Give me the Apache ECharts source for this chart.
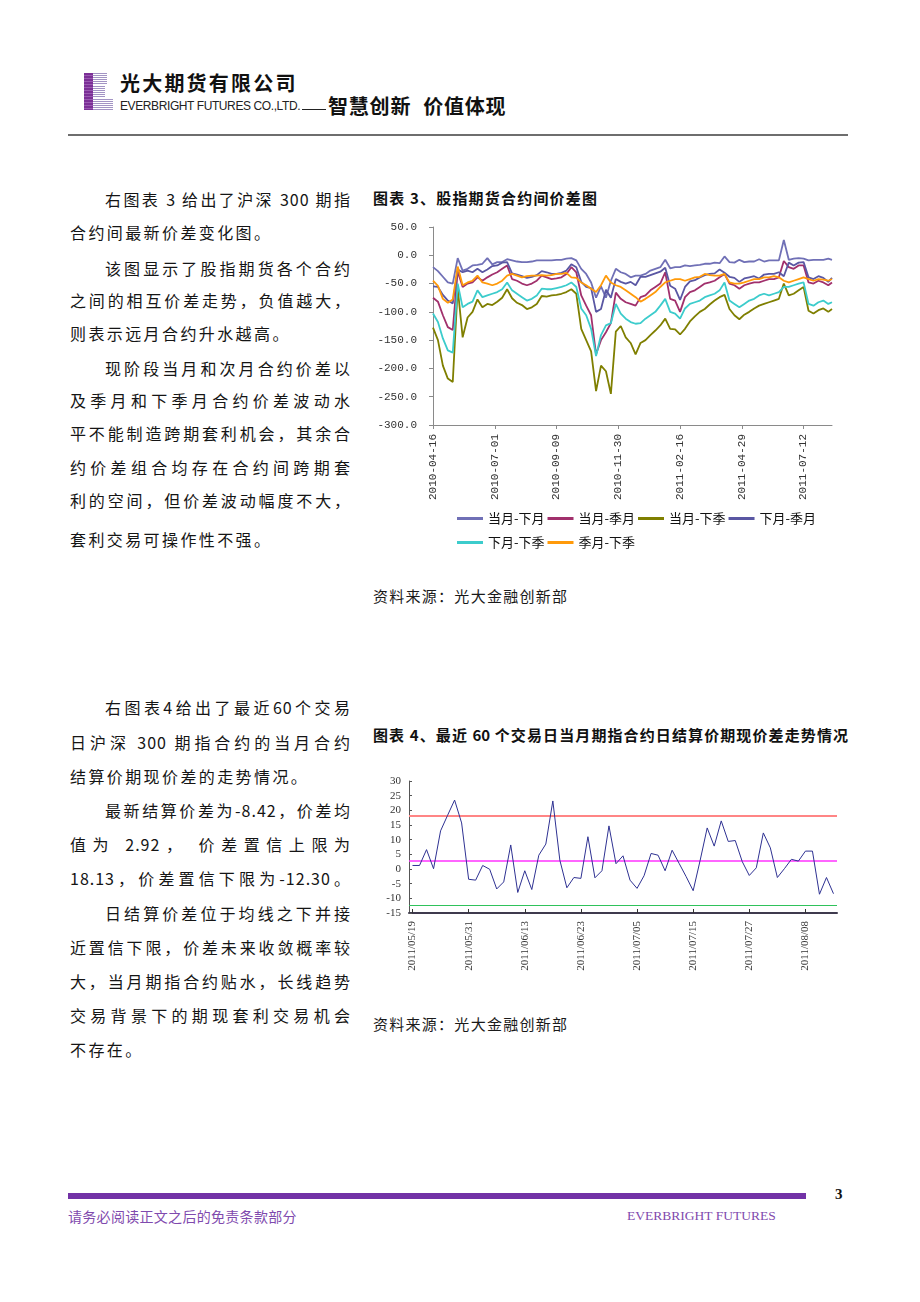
<!DOCTYPE html>
<html><head><meta charset="utf-8">
<script src="https://cdn.jsdelivr.net/npm/echarts@6/dist/echarts.min.js"></script>
<style>
html,body{margin:0;padding:0;background:#fff;}
#page{position:relative;width:920px;height:1302px;overflow:hidden;background:#fff;}
#chart{position:absolute;left:0;top:0;width:920px;height:1302px;z-index:2;}
.t{position:absolute;font-family:"Noto Sans CJK SC","Noto Sans",sans-serif;font-size:16px;color:#151515;letter-spacing:2.4px;white-space:nowrap;line-height:20px;}
.j{text-align:justify;text-align-last:justify;letter-spacing:1px;}
.w1{width:246px;}
.w2{width:281px;}
.h{position:absolute;font-family:"Noto Sans CJK SC",sans-serif;font-weight:700;font-size:15px;color:#111;white-space:nowrap;line-height:20px;text-align:justify;text-align-last:justify;}
.s{position:absolute;font-family:"Noto Sans CJK SC",sans-serif;font-size:15px;color:#1a1a1a;white-space:nowrap;line-height:20px;text-align:justify;text-align-last:justify;width:194px;}
</style></head>
<body><div id="page">
<!-- header -->
<div style="position:absolute;left:84px;top:73px;width:9px;height:37px;background:repeating-linear-gradient(to bottom,#7B2F96 0 2px,#9A5AB2 2px 3px)"></div>
<div style="position:absolute;left:93px;top:73px;width:14px;height:11px;background:repeating-linear-gradient(to bottom,#A394C4 0 1px,#fff 1px 2px)"></div>
<div style="position:absolute;left:93px;top:86px;width:12px;height:11px;background:repeating-linear-gradient(to bottom,#A394C4 0 1px,#fff 1px 2px)"></div>
<div style="position:absolute;left:93px;top:99px;width:20px;height:11px;background:repeating-linear-gradient(to bottom,#A394C4 0 1px,#fff 1px 2px)"></div>
<div style="position:absolute;left:120px;top:71px;font-family:'Noto Sans CJK SC';font-weight:700;font-size:20px;letter-spacing:2.2px;line-height:24px;color:#111;white-space:nowrap">光大期货有限公司</div>
<div style="position:absolute;left:120px;top:99px;font-family:'Liberation Sans';font-size:12px;letter-spacing:-0.4px;line-height:14px;color:#222;white-space:nowrap">EVERBRIGHT FUTURES CO.,LTD.</div>
<div style="position:absolute;left:302px;top:109px;width:24px;height:1px;background:#222"></div>
<div style="position:absolute;left:328px;top:94px;font-family:'Noto Sans CJK SC';font-weight:700;font-size:20px;letter-spacing:0.8px;line-height:24px;color:#111;white-space:nowrap">智慧创新<span style="display:inline-block;width:12px"></span>价值体现</div>
<div style="position:absolute;left:68px;top:134px;width:780px;height:2px;background:#6e6e6e"></div>

<!-- left text 1 -->
<div class="t j w1" style="left:105px;top:189px">右图表 3 给出了沪深 300 期指</div>
<div class="t" style="left:70px;top:222px">合约间最新价差变化图。</div>
<div class="t j w1" style="left:105px;top:258px">该图显示了股指期货各个合约</div>
<div class="t j w2" style="left:70px;top:290px">之间的相互价差走势，负值越大，</div>
<div class="t" style="left:70px;top:323px">则表示远月合约升水越高。</div>
<div class="t j w1" style="left:105px;top:358px">现阶段当月和次月合约价差以</div>
<div class="t j w2" style="left:70px;top:390px">及季月和下季月合约价差波动水</div>
<div class="t j w2" style="left:70px;top:423px">平不能制造跨期套利机会，其余合</div>
<div class="t j w2" style="left:70px;top:457px">约价差组合均存在合约间跨期套</div>
<div class="t j w2" style="left:70px;top:490px">利的空间，但价差波动幅度不大，</div>
<div class="t" style="left:70px;top:529px">套利交易可操作性不强。</div>

<div class="h" style="left:373px;top:188px;width:224px">图表 3、股指期货合约间价差图</div>
<div class="s" style="left:373px;top:586px">资料来源：光大金融创新部</div>

<!-- left text 2 -->
<div class="t j w1" style="left:105px;top:697px">右图表4给出了最近60个交易</div>
<div class="t j w2" style="left:70px;top:732px">日沪深 300 期指合约的当月合约</div>
<div class="t" style="left:70px;top:766px">结算价期现价差的走势情况。</div>
<div class="t j w1" style="left:105px;top:800px">最新结算价差为-8.42，价差均</div>
<div class="t j w2" style="left:70px;top:834px">值为 2.92， 价差置信上限为</div>
<div class="t j w2" style="left:70px;top:868px">18.13，价差置信下限为-12.30。</div>
<div class="t j w1" style="left:105px;top:903px">日结算价差位于均线之下并接</div>
<div class="t j w2" style="left:70px;top:937px">近置信下限，价差未来收敛概率较</div>
<div class="t j w2" style="left:70px;top:971px">大，当月期指合约贴水，长线趋势</div>
<div class="t j w2" style="left:70px;top:1005px">交易背景下的期现套利交易机会</div>
<div class="t" style="left:70px;top:1039px">不存在。</div>

<div class="h" style="left:373px;top:725px;width:475px">图表 4、最近 60 个交易日当月期指合约日结算价期现价差走势情况</div>
<div class="s" style="left:373px;top:1014px">资料来源：光大金融创新部</div>

<!-- footer -->
<div style="position:absolute;left:68px;top:1193px;width:738px;height:6px;background:#7232A6"></div>
<div style="position:absolute;left:835px;top:1185px;font-family:'Liberation Serif';font-weight:700;font-size:15px;line-height:18px;color:#111">3</div>
<div style="position:absolute;left:68px;top:1207px;font-family:'Noto Sans CJK SC';font-size:14px;letter-spacing:0.3px;line-height:18px;color:#7F4AAE;white-space:nowrap">请务必阅读正文之后的免责条款部分</div>
<div style="position:absolute;left:627px;top:1207px;font-family:'Liberation Serif';font-size:13.5px;line-height:18px;color:#7F4AAE;white-space:nowrap">EVERBRIGHT FUTURES</div>

<div id="chart"></div>
</div>
<script>
// ---------- Chart 3 data (trading-day index from 2010-04-16) ----------
const seriesNames = ['当月-下月','当月-季月','当月-下季','下月-季月','下月-下季','季月-下季'];
const seriesColors = ['#7070B6','#A1306C','#7F7F00','#5A57A3','#3CCCCC','#FF9A0A'];
const tickDays3 = [0,50,100,150,200,250,300];
const tickDates3 = ['2010-04-16','2010-07-01','2010-09-09','2010-11-30','2011-02-16','2011-04-29','2011-07-12'];
const days3 = [0,4,8,12,16,20,24,28,32,36,40,44,48,52,56,60,64,68,72,76,80,84,88,92,96,100,104,108,112,116,120,124,128,132,136,140,144,148,152,156,160,164,168,172,176,180,184,188,192,196,200,204,208,212,216,220,224,228,232,236,240,244,248,252,256,260,264,268,272,276,280,284,288,292,296,300,304,308,312,316,320,323];
const curNext = [-21,-28,-38,-48,-50,-5,-27,-24,-18,-17,-15,-5,-16,-12,-12,-7,-9,-11,-12,-12,-11,-9,-9,-9,-9,-8,-8,-6,-5,-9,-24,-33,-48,-75,-55,-75,-45,-24,-30,-33,-39,-36,-36,-33,-27,-24,-21,-8,-23,-21,-21,-18,-19,-18,-17,-15,-15,-13,-14,-2,-12,-13,-8,-12,-11,-11,-7,-11,-9,-9,-9,27,-8,-6,-5,-6,-9,-8,-8,-8,-6,-8];
const curQtr = [-75,-82,-106,-127,-132,-28,-56,-50,-48,-39,-45,-39,-34,-30,-24,-18,-42,-45,-50,-53,-50,-45,-36,-39,-42,-41,-39,-33,-21,-30,-71,-89,-106,-175,-150,-136,-120,-66,-77,-83,-86,-89,-74,-71,-62,-56,-50,-30,-77,-80,-100,-74,-65,-62,-56,-50,-48,-45,-39,-33,-50,-53,-59,-53,-50,-48,-48,-45,-42,-42,-39,-10,-21,-24,-18,-18,-48,-50,-45,-48,-53,-48];
const curNextQtr = [-128,-150,-195,-218,-224,-58,-145,-110,-100,-78,-92,-86,-88,-82,-75,-60,-76,-84,-88,-95,-92,-86,-72,-73,-71,-70,-68,-65,-60,-68,-130,-150,-170,-240,-195,-205,-245,-135,-125,-145,-155,-175,-155,-150,-141,-133,-124,-112,-130,-131,-140,-130,-117,-108,-100,-95,-87,-80,-74,-70,-95,-106,-113,-105,-100,-94,-89,-86,-83,-80,-77,-50,-71,-68,-62,-56,-98,-103,-97,-94,-100,-95];
const nextQtr = [-55,-56,-70,-80,-85,-25,-30,-27,-30,-24,-30,-25,-19,-18,-13,-12,-32,-34,-37,-40,-38,-35,-28,-30,-33,-33,-31,-27,-16,-21,-47,-56,-58,-100,-95,-61,-75,-42,-47,-50,-47,-53,-38,-38,-35,-32,-29,-22,-54,-59,-79,-56,-46,-44,-39,-35,-33,-32,-25,-31,-38,-40,-47,-41,-39,-37,-41,-34,-33,-33,-30,-37,-13,-18,-13,-12,-39,-42,-37,-40,-47,-40];
const nextNextQtr = [-103,-118,-147,-168,-172,-50,-92,-86,-82,-62,-74,-71,-68,-65,-60,-48,-62,-68,-74,-80,-77,-71,-59,-60,-60,-58,-56,-53,-48,-56,-94,-106,-130,-178,-141,-124,-120,-86,-103,-112,-118,-121,-120,-112,-106,-100,-89,-77,-100,-103,-112,-94,-86,-83,-80,-74,-71,-68,-62,-48,-80,-86,-92,-86,-80,-77,-71,-68,-71,-68,-65,-56,-56,-53,-50,-48,-86,-89,-83,-80,-86,-83];
const qtrNextQtr = [-45,-54,-77,-84,-78,-20,-53,-48,-45,-36,-48,-50,-53,-50,-45,-36,-33,-36,-39,-37,-36,-36,-35,-36,-35,-33,-33,-31,-39,-40,-48,-53,-59,-65,-53,-36,-48,-53,-56,-62,-68,-74,-82,-77,-71,-65,-56,-48,-45,-42,-42,-45,-42,-39,-38,-33,-35,-36,-36,-33,-48,-50,-50,-48,-45,-42,-42,-39,-39,-37,-39,-45,-48,-45,-42,-39,-42,-45,-42,-43,-45,-42];
const values3 = [curNext, curQtr, curNextQtr, nextQtr, nextNextQtr, qtrNextQtr];

// ---------- Chart 4 data ----------
const dates4 = ['2011/05/19','2011/05/20','2011/05/23','2011/05/24','2011/05/25','2011/05/26','2011/05/27','2011/05/30','2011/05/31',
'2011/06/01','2011/06/02','2011/06/03','2011/06/07','2011/06/08','2011/06/09','2011/06/10','2011/06/13','2011/06/14','2011/06/15','2011/06/16','2011/06/17','2011/06/20','2011/06/21','2011/06/22','2011/06/23','2011/06/24','2011/06/27','2011/06/28','2011/06/29','2011/06/30',
'2011/07/01','2011/07/04','2011/07/05','2011/07/06','2011/07/07','2011/07/08','2011/07/11','2011/07/12','2011/07/13','2011/07/14','2011/07/15','2011/07/18','2011/07/19','2011/07/20','2011/07/21','2011/07/22','2011/07/25','2011/07/26','2011/07/27','2011/07/28','2011/07/29',
'2011/08/01','2011/08/02','2011/08/03','2011/08/04','2011/08/05','2011/08/08','2011/08/09','2011/08/10','2011/08/11','2011/08/12'];
const basis4 = [1.2,1.2,6.6,0.1,13.0,18.3,23.5,15.7,-3.5,-3.8,1.2,-0.1,-6.8,-4.4,8.2,-8.0,-0.6,-7.0,4.7,8.5,23.2,
3.0,-6.4,-2.9,-3.2,11.0,-3.0,-0.6,14.7,1.8,4.5,-3.8,-6.6,-2.3,5.3,4.7,-0.6,6.4,1.9,-2.6,-7.4,3.0,
14.0,7.8,16.4,9.4,9.7,2.5,-2.2,0.4,12.3,7.2,-2.9,0.1,3.3,2.7,6.1,6.1,-8.6,-2.9,-8.42];
const upperLimit = 18.13, meanBasis = 2.92, lowerLimit = -12.30;

const chart = echarts.init(document.getElementById('chart'), null, {renderer:'canvas'});
const series3 = seriesNames.map((name, k) => ({
  name, type:'line', xAxisIndex:0, yAxisIndex:0, symbol:'none', showSymbol:false,
  color: seriesColors[k], itemStyle:{color:seriesColors[k]},
  lineStyle:{color:seriesColors[k], width:1.8},
  data: days3.map((d,i) => [d, values3[k][i]]),
  z: 2 + k
}));
const option = {
  animation:false,
  legend:{
    data: seriesNames, left:457, top:508, width:364, padding:0,
    icon:'rect', itemWidth:26, itemHeight:3, itemGap:3,
    textStyle:{fontFamily:'Noto Sans CJK SC', fontSize:13, color:'#111', lineHeight:21}
  },
  grid:[
    {left:433, top:227, width:399, height:198},
    {left:409, top:781, width:428, height:132}
  ],
  xAxis:[
    {gridIndex:0, type:'value', min:0, max:323,
     axisLine:{show:true, onZero:false, lineStyle:{color:'#8a8a8a', width:1}},
     axisTick:{show:true, customValues:tickDays3, length:4, lineStyle:{color:'#8a8a8a'}},
     axisLabel:{customValues:tickDays3, rotate:90, margin:9, fontFamily:'Liberation Mono', fontSize:11, color:'#333',
       formatter:v => { const i = tickDays3.indexOf(v); return i >= 0 ? tickDates3[i] : ''; }},
     splitLine:{show:false}},
    {gridIndex:1, type:'category', data:dates4, boundaryGap:true,
     axisLine:{show:true, onZero:false, lineStyle:{color:'#3f3a4e', width:2}},
     axisTick:{show:true, alignWithLabel:true, interval:7, inside:true, length:4, lineStyle:{color:'#333'}},
     axisLabel:{interval:7, rotate:90, margin:8, fontFamily:'Liberation Serif', fontSize:11, color:'#333'},
     splitLine:{show:false}}
  ],
  yAxis:[
    {gridIndex:0, type:'value', min:-300, max:50, interval:50,
     axisLine:{show:true, onZero:false, lineStyle:{color:'#8a8a8a', width:1}},
     axisTick:{show:true, length:4, lineStyle:{color:'#8a8a8a'}},
     axisLabel:{formatter:v => v.toFixed(1), margin:16, fontFamily:'Liberation Mono', fontSize:11, color:'#333'},
     splitLine:{show:false}},
    {gridIndex:1, type:'value', min:-15, max:30, interval:5,
     axisLine:{show:true, onZero:false, lineStyle:{color:'#555', width:1}},
     axisTick:{show:true, inside:true, length:3, lineStyle:{color:'#555'}},
     axisLabel:{margin:8, fontFamily:'Liberation Serif', fontSize:11, color:'#333'},
     splitLine:{show:false}}
  ],
  series: series3.concat([{
    name:'期现价差', type:'line', xAxisIndex:1, yAxisIndex:1, symbol:'none', showSymbol:false,
    data: basis4, lineStyle:{color:'#2E3192', width:1}, itemStyle:{color:'#2E3192'}, z:5,
    markLine:{silent:true, symbol:['none','none'], label:{show:false}, animation:false,
      data:[
        {yAxis:upperLimit, lineStyle:{color:'#FF8585', width:2, type:'solid'}},
        {yAxis:meanBasis, lineStyle:{color:'#FF33FF', width:1.5, type:'solid'}},
        {yAxis:lowerLimit, lineStyle:{color:'#2FC25B', width:1.2, type:'solid'}}
      ]}
  }])
};
chart.setOption(option);
</script>
</body></html>
